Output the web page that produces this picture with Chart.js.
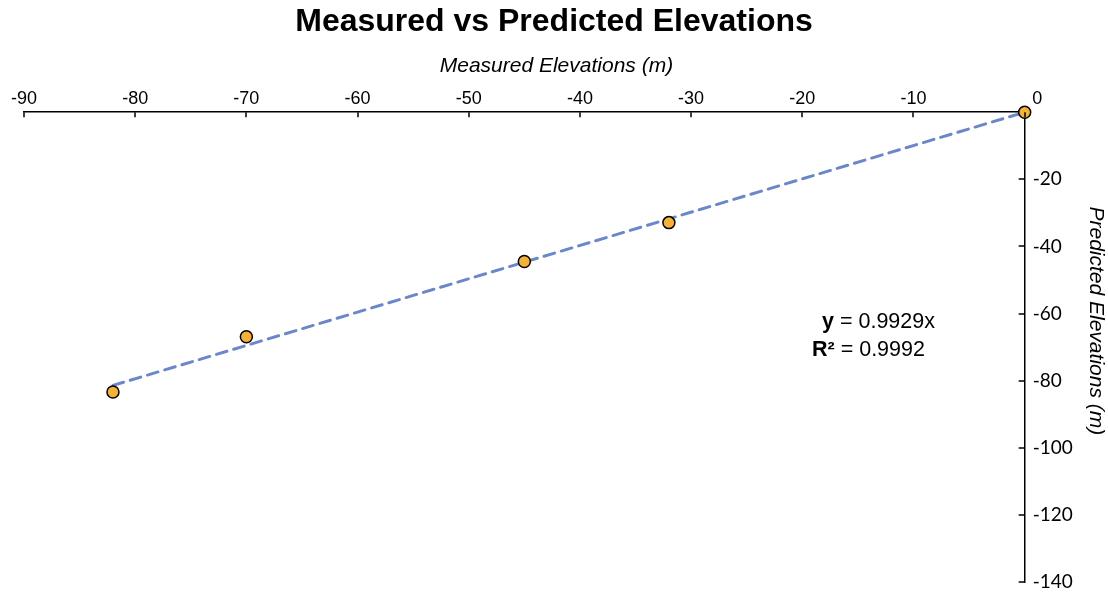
<!DOCTYPE html>
<html>
<head>
<meta charset="utf-8">
<script src="https://cdn.jsdelivr.net/npm/chart.js@4.4.0/dist/chart.umd.min.js"></script>
<style>
  html, body { margin: 0; padding: 0; background: #ffffff; }
  #c { display: block; }
</style>
</head>
<body>
<canvas id="c" width="1108" height="593"></canvas>
<script>
// Survey points: measured vs predicted elevation (m)
const measured  = [-82, -70, -45, -32, 0];
const predicted = [-83.4, -66.9, -44.5, -32.9, 0];

// Linear fit through the origin
const slope = 0.9929;
const rSquared = 0.9992;
const fitRange = [-82, 0];

// Axis ticks
const xTickValues = [-90, -80, -70, -60, -50, -40, -30, -20, -10, 0];
const yTickValues = [0, -20, -40, -60, -80, -100, -120, -140];

const points = measured.map((m, i) => ({ x: m, y: predicted[i] }));
const fitLine = fitRange.map(x => ({ x: x, y: slope * x }));

// Short inward tick marks on both axes
const tickMarks = {
  id: 'tickMarks',
  afterDraw(chart) {
    const { ctx, chartArea, scales } = chart;
    ctx.save();
    ctx.strokeStyle = '#000';
    ctx.lineWidth = 1.5;
    ctx.beginPath();
    xTickValues.forEach(v => {
      const px = Math.round(scales.x.getPixelForValue(v));
      ctx.moveTo(px, chartArea.top);
      ctx.lineTo(px, chartArea.top + 5);
    });
    yTickValues.forEach(v => {
      if (v === 0) return;
      const py = Math.round(scales.y.getPixelForValue(v));
      ctx.moveTo(chartArea.right - 6, py);
      ctx.lineTo(chartArea.right, py);
    });
    ctx.stroke();
    ctx.restore();
  }
};

// Fit equation label
const fitLabel = {
  id: 'fitLabel',
  afterDraw(chart) {
    const { ctx, chartArea } = chart;
    const left = chartArea.left;
    const top = chartArea.top;
    ctx.save();
    ctx.fillStyle = '#000';
    ctx.textBaseline = 'alphabetic';
    ctx.textAlign = 'left';
    const bold = 'bold 21.5px "Liberation Sans", Arial, sans-serif';
    const reg = '21.5px "Liberation Sans", Arial, sans-serif';

    let x = left + 798, y = top + 216;
    ctx.font = bold; ctx.fillText('y', x, y);
    x += ctx.measureText('y').width;
    ctx.font = reg; ctx.fillText(' = ' + slope.toFixed(4) + 'x', x, y);

    x = left + 788; y = top + 244;
    ctx.font = bold; ctx.fillText('R²', x, y);
    x += ctx.measureText('R²').width;
    ctx.font = reg; ctx.fillText(' = ' + rSquared.toFixed(4), x, y);
    ctx.restore();
  }
};

new Chart(document.getElementById('c'), {
  type: 'scatter',
  data: {
    datasets: [
      {
        label: 'Elevations',
        data: points,
        pointRadius: 6,
        pointHoverRadius: 6,
        pointBackgroundColor: '#F5B335',
        pointBorderColor: '#000000',
        pointBorderWidth: 1.5,
        clip: false,
        order: 0
      },
      {
        label: 'Linear fit',
        type: 'line',
        data: fitLine,
        showLine: true,
        borderColor: '#6A87CC',
        borderWidth: 3,
        borderDash: [11, 7],
        borderCapStyle: 'round',
        pointRadius: 0,
        fill: false,
        clip: false,
        order: 1
      }
    ]
  },
  options: {
    responsive: false,
    animation: false,
    devicePixelRatio: 1,
    layout: { padding: { top: 0, left: 0, right: 0, bottom: 0 } },
    plugins: {
      legend: { display: false },
      tooltip: { enabled: false },
      title: {
        display: true,
        text: 'Measured vs Predicted Elevations',
        color: '#000',
        font: { family: '"Liberation Sans", Arial, sans-serif', size: 32, weight: 'bold' },
        padding: { top: 3, bottom: 12 }
      }
    },
    scales: {
      x: {
        type: 'linear',
        position: 'top',
        min: -90,
        max: 0,
        afterBuildTicks: axis => { axis.ticks = xTickValues.map(v => ({ value: v })); },
        afterFit: axis => { axis.paddingLeft = 24; },
        grid: { display: false },
        border: { display: true, color: '#000', width: 1.5 },
        ticks: {
          color: '#000',
          padding: -6,
          maxRotation: 0,
          font: { family: '"Liberation Sans", Arial, sans-serif', size: 18 },
          callback: v => (v === 0 ? '     0' : String(v))
        },
        title: {
          display: true,
          text: '           Measured Elevations (m)',
          color: '#000',
          font: { family: '"Liberation Sans", Arial, sans-serif', size: 21, style: 'italic' },
          padding: { top: 0, bottom: 16 }
        }
      },
      y: {
        type: 'linear',
        position: 'right',
        min: -140,
        max: 0,
        afterBuildTicks: axis => { axis.ticks = yTickValues.map(v => ({ value: v })); },
        afterFit: axis => { axis.paddingBottom = 11; },
        grid: { display: false },
        border: { display: true, color: '#000', width: 1.5 },
        ticks: {
          color: '#000',
          padding: 0,
          font: { family: 'Lato, "Open Sans", sans-serif', size: 19 },
          callback: v => (v === 0 ? '' : String(v))
        },
        title: {
          display: true,
          text: 'Predicted Elevations (m)         ',
          color: '#000',
          font: { family: '"Liberation Sans", Arial, sans-serif', size: 21, style: 'italic' },
          padding: { top: 0, bottom: 10 }
        }
      }
    }
  },
  plugins: [tickMarks, fitLabel]
});
</script>
</body>
</html>
